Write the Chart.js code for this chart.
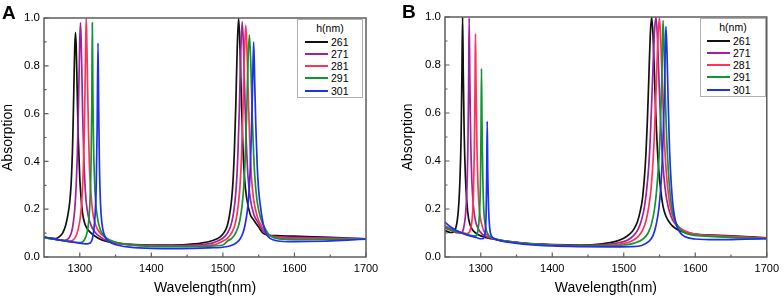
<!DOCTYPE html>
<html><head><meta charset="utf-8">
<script src="https://cdn.jsdelivr.net/npm/chart.js@4.4.1/dist/chart.umd.min.js"></script>
<style>
html,body{margin:0;padding:0;background:#fff}
body{width:784px;height:299px;position:relative;overflow:hidden;font-family:'Liberation Sans',Arial,sans-serif;color:#000}
canvas{position:absolute;top:0}
#ca{left:0}
#cb{left:400px}
.tag{position:absolute;font-weight:bold;font-size:19px;line-height:19px}
.legend{position:absolute;border:1px solid #b0b0b0;background:#fff;box-sizing:border-box;width:66px;height:79px;font-size:10.5px}
.legend .ttl{position:absolute;left:0;width:100%;text-align:center;top:2px;line-height:12px}
.legend .row{position:absolute;height:12px;line-height:12px;left:0;width:100%}
.legend .ln{position:absolute;top:5px;height:2px}
.legend .tx{position:absolute;top:0}
</style>
</head><body>
<canvas id="ca" width="392" height="299"></canvas>
<canvas id="cb" width="384" height="299"></canvas>
<div class="tag" style="left:2px;top:3px">A</div>
<div class="tag" style="left:402px;top:2px">B</div>
<div class="legend" id="la" style="left:297px;top:19px"></div>
<div class="legend" id="lb" style="left:700px;top:18px"></div>
<script>
// ---- data ----
const seriesLabels = ['261','271','281','291','301'];
const legendTitle = 'h(nm)';
const xTickValues = [1300,1400,1500,1600,1700];
const xMinorValues = [1350,1450,1550,1650];
const yTickValues = [0,0.2,0.4,0.6,0.8,1.0];
const yMinorValues = [0.1,0.3,0.5,0.7,0.9];

// Panel A
const A261 = [[1250,0.083],[1258,0.079],[1266,0.077],[1272,0.086],[1276,0.1],[1280,0.13],[1283,0.17],[1286,0.23],[1288,0.31],[1290,0.47],[1291,0.6],[1292,0.75],[1293,0.88],[1294,0.94],[1295,0.88],[1296,0.75],[1297,0.61],[1298,0.49],[1300,0.33],[1302,0.24],[1304,0.18],[1307,0.14],[1310,0.12],[1314,0.105],[1320,0.09],[1330,0.072],[1345,0.06],[1370,0.053],[1400,0.05],[1430,0.05],[1460,0.055],[1480,0.064],[1492,0.076],[1497,0.086],[1502,0.104],[1506,0.13],[1509,0.17],[1512,0.235],[1514,0.31],[1516,0.44],[1518,0.63],[1520,0.87],[1522,1.0],[1524,0.87],[1526,0.64],[1528,0.46],[1530,0.34],[1533,0.25],[1538,0.18],[1543,0.155],[1550,0.125],[1556,0.1],[1562,0.092],[1580,0.089],[1600,0.087],[1650,0.082],[1700,0.076]];
const A271 = [[1250,0.082],[1260,0.077],[1270,0.073],[1278,0.07],[1282,0.072],[1286,0.085],[1289,0.11],[1291,0.145],[1293,0.2],[1295,0.3],[1296.5,0.42],[1298,0.6],[1299,0.76],[1300,0.91],[1301,0.98],[1302,0.9],[1303,0.76],[1304,0.6],[1305.5,0.43],[1307,0.32],[1309,0.23],[1312,0.17],[1316,0.13],[1321,0.105],[1328,0.085],[1338,0.068],[1350,0.058],[1380,0.05],[1420,0.047],[1460,0.05],[1485,0.058],[1497,0.073],[1502,0.084],[1507,0.103],[1511,0.131],[1514,0.169],[1517,0.235],[1519,0.31],[1521,0.432],[1523,0.62],[1525,0.856],[1527,0.985],[1529,0.86],[1531,0.63],[1533,0.46],[1535,0.34],[1538,0.25],[1543,0.18],[1548,0.15],[1555,0.115],[1561,0.095],[1570,0.086],[1600,0.082],[1650,0.079],[1700,0.076]];
const A281 = [[1250,0.082],[1260,0.077],[1270,0.072],[1280,0.068],[1286,0.067],[1291,0.072],[1295,0.09],[1298,0.12],[1300.5,0.16],[1302.5,0.22],[1304.5,0.33],[1306,0.48],[1307.2,0.68],[1308.2,0.88],[1309,1.0],[1310,0.88],[1311,0.7],[1312.2,0.52],[1313.5,0.38],[1315.5,0.27],[1318,0.19],[1321,0.145],[1325,0.115],[1330,0.095],[1337,0.078],[1347,0.064],[1360,0.055],[1400,0.046],[1440,0.045],[1470,0.047],[1490,0.053],[1502,0.07],[1507,0.08],[1512,0.1],[1516,0.127],[1519,0.165],[1522,0.23],[1524,0.3],[1526,0.42],[1528,0.61],[1530,0.84],[1532,0.97],[1534,0.84],[1536,0.62],[1538,0.45],[1540,0.33],[1543,0.24],[1548,0.17],[1553,0.135],[1560,0.1],[1566,0.088],[1580,0.08],[1600,0.078],[1650,0.077],[1700,0.076]];
const A291 = [[1250,0.081],[1260,0.076],[1270,0.071],[1280,0.067],[1290,0.063],[1298,0.06],[1303,0.062],[1307,0.075],[1310,0.1],[1312.5,0.15],[1314.5,0.25],[1315.8,0.4],[1316.8,0.65],[1317.5,0.98],[1318.3,0.7],[1319.2,0.48],[1320.5,0.33],[1322.5,0.22],[1325,0.16],[1328,0.12],[1332,0.095],[1338,0.078],[1347,0.065],[1360,0.056],[1380,0.049],[1400,0.044],[1440,0.043],[1480,0.045],[1500,0.05],[1507,0.068],[1512,0.077],[1517,0.096],[1521,0.122],[1524,0.158],[1527,0.22],[1529,0.29],[1531,0.4],[1533,0.58],[1535,0.81],[1537,0.93],[1539,0.81],[1541,0.59],[1543,0.43],[1545,0.32],[1548,0.23],[1553,0.16],[1558,0.125],[1564,0.095],[1572,0.08],[1590,0.074],[1620,0.073],[1660,0.074],[1700,0.076]];
const A301 = [[1250,0.085],[1260,0.078],[1270,0.072],[1280,0.067],[1290,0.062],[1300,0.058],[1308,0.055],[1312,0.056],[1315,0.06],[1317.5,0.075],[1319.5,0.11],[1321.5,0.18],[1323,0.3],[1324.3,0.55],[1325.5,0.895],[1326.5,0.6],[1327.5,0.38],[1329,0.22],[1331,0.14],[1334,0.095],[1338,0.072],[1345,0.058],[1355,0.048],[1370,0.041],[1400,0.036],[1440,0.035],[1480,0.038],[1505,0.043],[1515,0.052],[1520,0.062],[1524,0.075],[1528,0.1],[1531,0.135],[1534,0.19],[1536,0.25],[1538,0.35],[1540,0.53],[1541.5,0.72],[1543,0.9],[1544.5,0.73],[1546,0.55],[1548,0.38],[1550,0.28],[1553,0.2],[1557,0.13],[1561,0.095],[1566,0.078],[1575,0.068],[1600,0.064],[1640,0.066],[1680,0.072],[1700,0.075]];

// Panel B
const B261 = [[1250,0.11],[1258,0.102],[1262,0.105],[1265,0.12],[1267.5,0.16],[1269.5,0.23],[1271,0.33],[1272.5,0.5],[1273.6,0.75],[1274.6,1.0],[1275.6,0.76],[1276.8,0.52],[1278.5,0.34],[1280.5,0.23],[1283,0.16],[1287,0.12],[1293,0.1],[1300,0.088],[1315,0.076],[1330,0.068],[1360,0.058],[1400,0.052],[1440,0.05],[1470,0.055],[1490,0.066],[1500,0.078],[1509,0.097],[1514,0.115],[1519,0.146],[1523,0.19],[1526,0.24],[1529,0.336],[1531,0.43],[1533,0.565],[1535,0.74],[1537,0.92],[1539,1.0],[1541,0.92],[1543,0.75],[1545,0.58],[1547,0.45],[1549,0.36],[1552,0.27],[1555,0.21],[1559,0.17],[1565,0.14],[1572,0.12],[1582,0.105],[1600,0.095],[1650,0.088],[1700,0.08]];
const B271 = [[1250,0.12],[1260,0.11],[1268,0.1],[1273,0.1],[1276,0.12],[1278.5,0.17],[1280.5,0.27],[1282,0.45],[1283,0.7],[1283.8,0.995],[1284.8,0.72],[1286,0.48],[1287.5,0.32],[1289.5,0.22],[1292,0.16],[1296,0.12],[1302,0.095],[1312,0.08],[1330,0.068],[1360,0.057],[1400,0.05],[1440,0.048],[1470,0.051],[1490,0.058],[1505,0.07],[1514,0.09],[1520,0.115],[1525,0.155],[1529,0.21],[1532,0.28],[1535,0.38],[1537,0.49],[1539,0.64],[1541,0.8],[1543,0.94],[1545,1.0],[1547,0.92],[1549,0.76],[1551,0.6],[1553,0.47],[1556,0.34],[1560,0.24],[1566,0.17],[1574,0.13],[1585,0.108],[1600,0.094],[1650,0.086],[1700,0.078]];
const B281 = [[1250,0.13],[1260,0.115],[1270,0.105],[1280,0.098],[1283,0.1],[1286,0.12],[1288,0.16],[1289.8,0.26],[1291,0.45],[1292,0.72],[1292.6,0.93],[1293.5,0.7],[1294.6,0.47],[1296,0.31],[1298,0.2],[1301,0.14],[1305,0.105],[1312,0.085],[1325,0.072],[1350,0.06],[1400,0.05],[1440,0.047],[1470,0.048],[1495,0.054],[1510,0.065],[1520,0.085],[1526,0.11],[1531,0.15],[1535,0.21],[1538,0.28],[1541,0.4],[1543,0.52],[1545,0.68],[1547,0.85],[1548.5,0.95],[1550,0.995],[1552,0.88],[1554,0.7],[1556,0.54],[1558,0.42],[1561,0.3],[1565,0.21],[1571,0.15],[1579,0.12],[1590,0.103],[1600,0.095],[1650,0.085],[1700,0.078]];
const B291 = [[1250,0.125],[1260,0.112],[1270,0.103],[1280,0.095],[1290,0.088],[1294,0.09],[1296,0.11],[1298,0.17],[1299.5,0.3],[1300.3,0.5],[1301,0.785],[1301.8,0.55],[1302.8,0.34],[1304.2,0.2],[1306.5,0.13],[1310,0.095],[1318,0.078],[1330,0.068],[1360,0.057],[1400,0.049],[1440,0.046],[1470,0.046],[1500,0.05],[1515,0.058],[1527,0.075],[1534,0.1],[1539,0.14],[1543,0.2],[1546,0.28],[1549,0.4],[1551,0.53],[1553,0.72],[1554.2,0.88],[1555,0.985],[1556.5,0.86],[1558,0.68],[1560,0.5],[1563,0.33],[1567,0.21],[1572,0.15],[1580,0.112],[1595,0.092],[1620,0.086],[1660,0.08],[1700,0.077]];
const B301 = [[1250,0.145],[1258,0.125],[1266,0.11],[1275,0.098],[1285,0.088],[1295,0.08],[1300,0.076],[1303,0.076],[1305,0.085],[1306.5,0.11],[1307.5,0.18],[1308.3,0.33],[1309,0.565],[1309.8,0.36],[1311,0.2],[1312.5,0.12],[1315,0.088],[1320,0.075],[1330,0.066],[1360,0.054],[1400,0.046],[1440,0.043],[1480,0.042],[1510,0.043],[1525,0.048],[1535,0.065],[1541,0.09],[1545,0.13],[1549,0.2],[1552,0.3],[1554.5,0.45],[1556.5,0.64],[1558,0.85],[1559,0.96],[1560.5,0.85],[1562,0.66],[1564,0.45],[1566.5,0.3],[1569,0.21],[1573,0.14],[1578,0.105],[1585,0.085],[1600,0.075],[1630,0.072],[1670,0.074],[1700,0.076]];

const panelA = [A261,A271,A281,A291,A301];
const panelB = [B261,B271,B281,B291,B301];

// ---- styles ----
const colors = ['#111111','#a0209e','#ff3355','#0f9630','#1f2ff0'];
const axisColor = '#5e5e5e';
const FONT = "'Liberation Sans', Arial, sans-serif";

const frameTicks = {
  id: 'frameTicks',
  afterDatasetsDraw(chart) {
    const {ctx, chartArea: a, scales: {x, y}} = chart;
    ctx.save();
    ctx.strokeStyle = axisColor;
    ctx.lineWidth = 1.5;
    ctx.strokeRect(a.left, a.top, a.right - a.left, a.bottom - a.top);
    ctx.lineWidth = 1.2;
    ctx.beginPath();
    const tick = (vals, len, axis) => vals.forEach(v => {
      if (axis === 'x') { const px = x.getPixelForValue(v); ctx.moveTo(px, a.bottom); ctx.lineTo(px, a.bottom - len); }
      else { const py = y.getPixelForValue(v); ctx.moveTo(a.left, py); ctx.lineTo(a.left + len, py); }
    });
    tick(xTickValues, 4.5, 'x'); tick(xMinorValues, 2.5, 'x');
    tick(yTickValues, 4.5, 'y'); tick(yMinorValues, 2.5, 'y');
    ctx.stroke();
    ctx.restore();
  }
};

function makeChart(id, series, pad, yWidth) {
  return new Chart(document.getElementById(id), {
    type: 'line',
    data: {
      datasets: series.map((s, i) => ({
        label: seriesLabels[i],
        data: s.map(([x, y]) => ({x, y})),
        borderColor: colors[i],
        backgroundColor: colors[i],
        borderWidth: 1.7,
        pointRadius: 0,
        fill: false,
        cubicInterpolationMode: 'monotone',
        order: series.length - i
      }))
    },
    options: {
      responsive: false,
      animation: false,
      devicePixelRatio: 1,
      layout: {padding: pad},
      plugins: {legend: {display: false}, tooltip: {enabled: false}},
      scales: {
        x: {
          type: 'linear', min: 1250, max: 1700,
          afterBuildTicks: s => { s.ticks = xTickValues.map(v => ({value: v})); },
          afterFit: s => { s.height = 42; },
          grid: {display: false, drawTicks: false},
          border: {display: false},
          ticks: {color: '#000', font: {family: FONT, size: 11}, padding: 5, maxRotation: 0, autoSkip: false, callback: v => String(v)},
          title: {display: true, text: 'Wavelength(nm)', color: '#000', font: {family: FONT, size: 14}, padding: {top: 0, bottom: 2}}
        },
        y: {
          type: 'linear', min: 0, max: 1,
          afterBuildTicks: s => { s.ticks = yTickValues.map(v => ({value: v})); },
          afterFit: s => { s.width = yWidth; },
          grid: {display: false, drawTicks: false},
          border: {display: false},
          ticks: {color: '#000', font: {family: FONT, size: 11.5}, padding: 4, autoSkip: false, callback: v => Number(v).toFixed(1)},
          title: {display: true, text: 'Absorption', color: '#000', font: {family: FONT, size: 14}, padding: 0}
        }
      }
    },
    plugins: [frameTicks]
  });
}

makeChart('ca', panelA, {left: 0, top: 18, right: 26, bottom: 0}, 44);
makeChart('cb', panelB, {left: 0, top: 17, right: 15, bottom: 0}, 45);

function buildLegend(id, lineLeft, textLeft) {
  const box = document.getElementById(id);
  const t = document.createElement('div'); t.className = 'ttl'; t.textContent = legendTitle; box.appendChild(t);
  seriesLabels.forEach((lab, i) => {
    const r = document.createElement('div'); r.className = 'row'; r.style.top = (15.5 + i * 12.3) + 'px';
    const l = document.createElement('div'); l.className = 'ln'; l.style.left = lineLeft + 'px'; l.style.width = '23px'; l.style.background = colors[i];
    const tx = document.createElement('div'); tx.className = 'tx'; tx.style.left = textLeft + 'px'; tx.textContent = lab;
    r.appendChild(l); r.appendChild(tx); box.appendChild(r);
  });
}
buildLegend('la', 7, 33);
buildLegend('lb', 6, 32);
</script>
</body></html>
